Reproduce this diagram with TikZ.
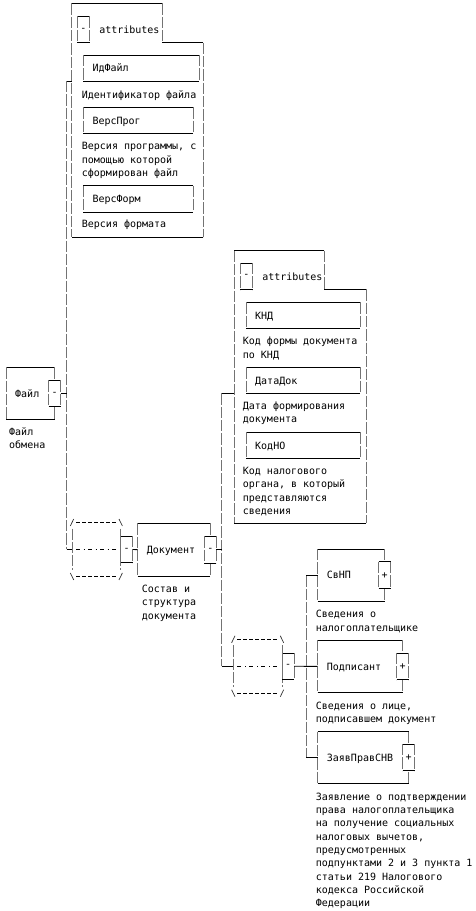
\documentclass[tikz,border=0pt]{standalone}
\usepackage{fontspec}
\setmonofont{DejaVu Sans Mono}
\usetikzlibrary{calc,positioning}
\tikzset{hbar/.style={line width=0.9pt},
  vbar/.style={line width=0.9pt, black!55, dash pattern=on 11.3pt off 2pt},
  elem/.style={inner xsep=9pt, inner ysep=0pt, anchor=north west, align=left, text height=7.3pt, text depth=0pt},
  tog/.style={minimum width=11.7pt, minimum height=26.2pt, inner sep=0pt},
  seq/.style={minimum width=48.3pt, minimum height=53.5pt, inner sep=0pt, anchor=north west},
  note/.style={anchor=base west, inner sep=0pt, align=left}}
% box drawn as |pipes| with solid top and bottom
\newcommand\pipebox[1]{%
  \draw[hbar] (#1.north west) -- (#1.north east) (#1.south west) -- (#1.south east);
  \draw[vbar] (#1.north west) -- (#1.south west) (#1.north east) -- (#1.south east);}
% sequence compositor  /---\ |-.-.-| \---/
\newcommand\seqline[1]{%
  \draw[hbar, dash pattern=on 3.5pt off 2.5pt] ($(#1.north west)+(4,0)$) -- ($(#1.north east)+(-4,0)$)
    ($(#1.south west)+(4,0)$) -- ($(#1.south east)+(-4,0)$);
  \draw[hbar, dash pattern=on 3.5pt off 4.2pt on 1.3pt off 3pt] ($(#1.west)+(4,0)$) -- ($(#1.east)+(-4,0)$);
  \draw[vbar] ($(#1.north west)+(0,6)$) -- ($(#1.south west)+(0,-6)$)
    ($(#1.north east)+(0,6)$) -- ($(#1.south east)+(0,-6)$);
  \draw[line width=0.7pt, black!80]
    ($(#1.north west)+(-1.7,3.5)$) -- ($(#1.north west)+(1.7,-3.5)$)
    ($(#1.north east)+(-1.7,-3.5)$) -- ($(#1.north east)+(1.7,3.5)$)
    ($(#1.south west)+(-1.7,-3.5)$) -- ($(#1.south west)+(1.7,3.5)$)
    ($(#1.south east)+(-1.7,3.5)$) -- ($(#1.south east)+(1.7,-3.5)$);}

\begin{document}
\begin{tikzpicture}[x=1pt, y=-1pt, font={\ttfamily\fontsize{10pt}{13.3pt}\selectfont}]
  \useasboundingbox (0,0) rectangle (476,911);
  % root element (notes: base = last line)
  \node[elem, text width=30.3pt, minimum height=52pt] (fajl) at (6,367.3) {Файл};
  \pipebox{fajl}
  \node[tog, fill=white] (fajlm) at (fajl.east) {-};
  \pipebox{fajlm}
  \node[note] (fajld) at (9,448.8) {Файл\\обмена};
  % attributes of Файл
  \draw[hbar] (71.7,3.3) -- (162.3,3.3) (162.3,42.7) -- (203.3,42.7) (203.3,237.3) -- (71.7,237.3);
  \draw[vbar] (71.7,3.3) -- (71.7,237.3) (162.3,3.3) -- (162.3,42.7) (203.3,42.7) -- (203.3,237.3);
  \node[tog] (attAm) at (83.5,29.6) {-};
  \pipebox{attAm}
  \node[right=9.5pt of attAm, inner sep=0pt] (attAt) {attributes};
  \node[elem, text width=97.7pt, minimum height=26pt] (idf) at (83.3,55) {ИдФайл};
  \pipebox{idf}
  \node[note] (idfd) at (81.7,98.5) {Идентификатор файла};
  \node[elem, text width=91.4pt, minimum height=26pt] (vprog) at (83.3,107.3) {ВерсПрог};
  \pipebox{vprog}
  \node[note] (vprogd) at (81.7,176.5) {Версия программы, с\\помощью которой\\сформирован файл};
  \node[elem, text width=91.4pt, minimum height=26pt] (vform) at (83.3,185.7) {ВерсФорм};
  \pipebox{vform}
  \node[note] (vformd) at (81.7,227.5) {Версия формата};
  \coordinate (attA) at (71.7,81);
  % sequence under Файл
  \node[seq] (seqA) at (72,522.5) {};
  \seqline{seqA}
  \node[tog, anchor=west] (seqAm) at (seqA.east) {-};
  \pipebox{seqAm}
  \draw[hbar] (attA) -- ++(-5,0) coordinate (spA);
  \draw[vbar] (spA) -- (spA |- seqA.west);
  \draw[hbar] (spA |- seqA.west) -- (seqA.west);
  \draw[hbar] (fajlm.east) -- (fajlm.east -| spA);
  % Документ
  \node[elem, text width=54.3pt, minimum height=52.4pt] (dok) at (137.7,523.3) {Документ};
  \pipebox{dok}
  \node[tog, fill=white] (dokm) at (dok.east) {-};
  \pipebox{dokm}
  \node[note] (dokd) at (141.7,619.1) {Состав и\\структура\\документа};
  \draw[hbar] (seqAm.east) -- (dok.west);
  % attributes of Документ
  \draw[hbar] (234,250.7) -- (324,250.7) (324,289.3) -- (366,289.3) (366,523.3) -- (234,523.3);
  \draw[vbar] (234,250.7) -- (234,523.3) (324,250.7) -- (324,289.3) (366,289.3) -- (366,523.3);
  \node[tog] (attBm) at (246.5,276.3) {-};
  \pipebox{attBm}
  \node[right=9.5pt of attBm, inner sep=0pt] (attBt) {attributes};
  \node[elem, text width=96pt, minimum height=26pt] (knd) at (246,302.3) {КНД};
  \pipebox{knd}
  \node[note] (kndd) at (242.7,358.1) {Код формы документа\\по КНД};
  \node[elem, text width=96pt, minimum height=26pt] (datad) at (246,367.3) {ДатаДок};
  \pipebox{datad}
  \node[note] (datadd) at (242.7,422.8) {Дата формирования\\документа};
  \node[elem, text width=96pt, minimum height=26pt] (kodno) at (246,432.3) {КодНО};
  \pipebox{kodno}
  \node[note] (kodnod) at (242.7,514.4) {Код налогового\\органа, в который\\представляются\\сведения};
  \coordinate (attB) at (234,393.3);
  % sequence under Документ
  \node[seq] (seqB) at (233.3,639.3) {};
  \seqline{seqB}
  \node[tog, anchor=west] (seqBm) at (seqB.east) {-};
  \pipebox{seqBm}
  \draw[hbar] (attB) -- ++(-12.3,0) coordinate (spB);
  \draw[vbar] (spB) -- (spB |- seqB.west);
  \draw[hbar] (spB |- seqB.west) -- (seqB.west);
  \draw[hbar] (dokm.east) -- (dokm.east -| spB);
  % children of the sequence
  \node[elem, text width=48.6pt, minimum height=52pt] (svnp) at (317.7,549) {СвНП};
  \node[note] (svnpd) at (315.7,631.1) {Сведения о\\налогоплательщике};
  \node[elem, text width=66.6pt, minimum height=52.3pt] (podp) at (317.7,640) {Подписант};
  \node[note] (podpd) at (315.7,722.5) {Сведения о лице,\\подписавшем документ};
  \node[elem, text width=72.6pt, minimum height=51pt] (zayav) at (317.7,731.7) {ЗаявПравСНВ};
  \node[note] (zayavd) at (315.7,906.6) {Заявление о подтверждении\\права налогоплательщика\\на получение социальных\\налоговых вычетов,\\предусмотренных\\подпунктами 2 и 3 пункта 1\\статьи 219 Налогового\\кодекса Российской\\Федерации};
  \foreach \c in {svnp,podp,zayav}{
    \pipebox{\c}
    \node[tog, fill=white] (\c p) at (\c.east) {+};
    \pipebox{\c p}}
  \draw[hbar] (seqBm.east) -- (podp.west);
  \coordinate (spC) at ($(seqBm.east)+(12,0)$);
  \draw[vbar] (spC |- svnp.west) -- (spC |- zayav.west);
  \foreach \c in {svnp,zayav}{\draw[hbar] (spC |- \c.west) -- (\c.west);}
\end{tikzpicture}
\end{document}
